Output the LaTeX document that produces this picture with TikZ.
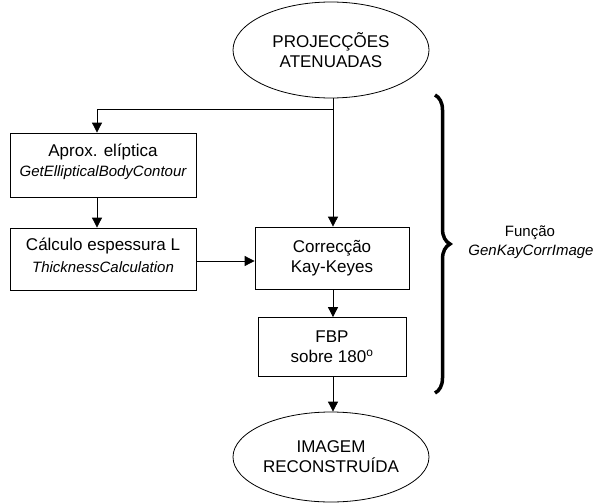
\documentclass[tikz,border=0pt]{standalone}
\usepackage{fontspec}
\setmainfont{Liberation Sans}
\usetikzlibrary{shapes.geometric,arrows.meta,decorations.pathreplacing,calc}
\begin{document}
\begin{tikzpicture}[x=1pt,y=-1pt,
  every node/.style={inner sep=0pt,align=center,font=\fontsize{17}{20}\selectfont},
  box/.style={draw,line width=0.8pt,rectangle},
  oval/.style={draw,line width=0.8pt,ellipse,minimum width=196pt},
  conn/.style={line width=0.8pt},
  arr/.style={conn,-{Triangle[length=10pt,width=10pt]}},
  it/.style={font=\fontsize{15}{18}\selectfont\itshape}
]
\useasboundingbox (0,0) rectangle (596,503);
\node[oval,minimum height=96pt] (proj) at (331,50) {PROJECÇÕES\\ATENUADAS};
\node[box,minimum width=186pt,minimum height=64pt] (aprox) at (103,165) {};
\node (aproxa) at (103,152) {Aprox. elíptica};
\node[it] (aproxb) at (103,173) {GetEllipticalBodyContour};
\node[box,minimum width=186pt,minimum height=62pt] (calc) at (103,259) {};
\node (calca) at (103,246) {Cálculo espessura L};
\node[it] (calcb) at (103,267) {ThicknessCalculation};
\node[box,minimum width=154pt,minimum height=62pt] (kay) at (332,258) {Correcção\\Kay-Keyes};
\node[box,minimum width=148pt,minimum height=59pt] (fbp) at (332,347) {FBP\\sobre 180\textsuperscript{o}};
\node[oval,minimum height=90pt] (img) at (331,457) {IMAGEM\\RECONSTRUÍDA};
\coordinate (split) at (333,109);
\coordinate (left) at (97,109);
\draw[conn] (proj.south -| split) -- (split);
\draw[arr] (split) -- (split |- kay.north);
\draw[arr] (split) -- (left) -- (left |- aprox.north);
\draw[arr] (left |- aprox.south) -- (left |- calc.north);
\draw[arr] (calc.east |- 0,261) -- (kay.west |- 0,261);
\draw[arr] (kay.south -| split) -- (fbp.north -| split);
\draw[arr] (fbp.south -| split) -- (img.north -| split);
\coordinate (btop) at (435,95);
\coordinate (bbot) at (435,393);
\draw[line width=3.5pt,decorate,decoration={brace,amplitude=15pt}] (btop) -- (bbot);
\node (fun) at (530,233) {\fontsize{15}{18}\selectfont Função};
\node[it] (funb) at (531,252) {GenKayCorrImage};
\end{tikzpicture}
\end{document}
